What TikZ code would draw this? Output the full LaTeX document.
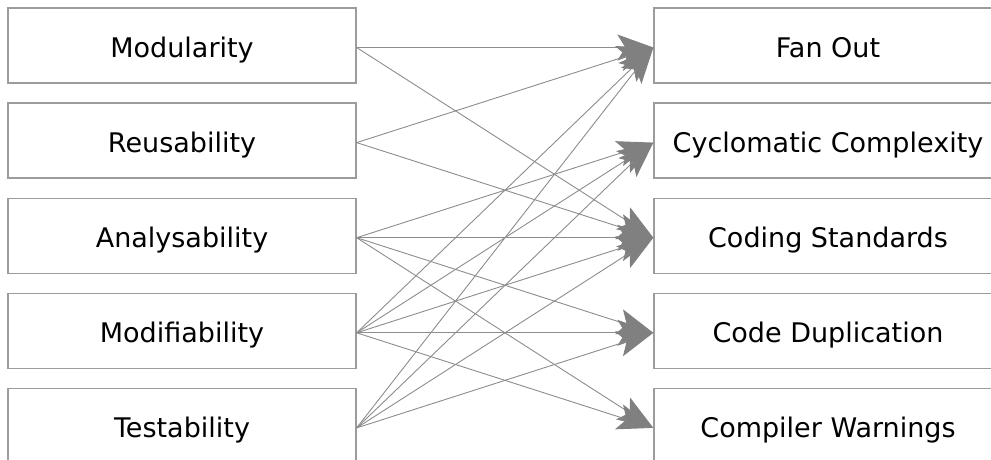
\documentclass[tikz,border=0pt]{standalone}
\usepackage{fontspec}
\setmainfont{DejaVu Sans}
\usetikzlibrary{arrows.meta}
\definecolor{boxgray}{HTML}{9C9C9C}
\definecolor{linegray}{HTML}{8C8C8C}
\definecolor{arrowgray}{HTML}{808080}
\begin{document}
\begin{tikzpicture}[x=1pt,y=-1pt,
  box/.style={draw=boxgray,line width=1.3pt,minimum width=348pt,minimum height=75pt,inner sep=0pt,
    text height=24pt,text depth=0pt,
    font=\fontsize{27}{32}\selectfont,text=black},
  link/.style={draw=linegray,line width=0.9pt,
    -{Stealth[length=36pt,width=26pt,inset=8pt,color=arrowgray,fill=arrowgray]}}]
\useasboundingbox (0,0) rectangle (991,459);
\clip (0,0) rectangle (991,459);
% left boxes
\node[box] (l1) at (182,45.5)  {Modularity};
\node[box] (l2) at (182,140.6) {Reusability};
\node[box] (l3) at (182,235.7) {Analysability};
\node[box] (l4) at (182,330.8) {Modifiability};
\node[box] (l5) at (182,425.9) {Testability};
% right boxes
\node[box] (r1) at (828,45.5)  {Fan Out};
\node[box] (r2) at (828,140.6) {Cyclomatic Complexity};
\node[box] (r3) at (828,235.7) {Coding Standards};
\node[box] (r4) at (828,330.8) {Code Duplication};
\node[box] (r5) at (828,425.9) {Compiler Warnings};
% connectors
\foreach \a/\b in {l1/r1,l1/r3,l2/r1,l2/r3,l3/r2,l3/r3,l3/r4,l3/r5,
                   l4/r1,l4/r2,l4/r3,l4/r4,l4/r5,l5/r1,l5/r2,l5/r3,l5/r4}
  \draw[link] ([yshift=-2pt]\a.east) -- ([yshift=-2pt]\b.west);
\end{tikzpicture}
\end{document}
